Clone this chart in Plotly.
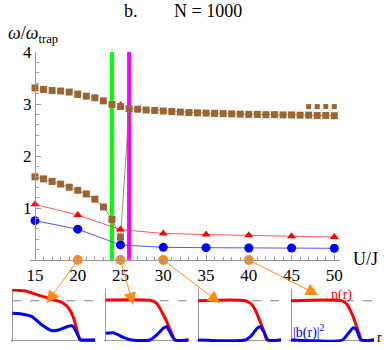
import plotly.graph_objects as go

# ---------------- data ----------------
U_brown = list(range(15, 51))
upper_branch = [3.31, 3.28, 3.26, 3.25, 3.23, 3.19, 3.15, 3.12, 3.06, 2.99, 2.95,
                2.91, 2.90, 2.885, 2.875, 2.865, 2.855, 2.845, 2.835, 2.83, 2.825,
                2.82, 2.815, 2.81, 2.805, 2.80, 2.80, 2.795, 2.795, 2.79, 2.79,
                2.785, 2.785, 2.78, 2.78, 2.775]
U_lower = list(range(15, 26))
lower_branch = [1.60, 1.56, 1.51, 1.46, 1.40, 1.34, 1.27, 1.17, 1.02, 0.78, 0.44]
U_extra = [47, 48, 49, 50]
extra_branch = [2.95, 2.95, 2.95, 2.95]

U_coarse = [15, 20, 25, 30, 35, 40, 45, 50]
red_vals = [1.07, 0.865, 0.585, 0.51, 0.49, 0.475, 0.455, 0.44]
blue_vals = [0.756, 0.593, 0.29, 0.244, 0.237, 0.231, 0.231, 0.225]
U_red_hidden = [20, 25]
red_hidden = [3.15, 3.0]

U_transitions = [24, 26]
U_snapshots = [20, 25, 30, 40]

x_ticks = [15, 20, 25, 30, 35, 40, 45, 50]
y_ticks = [1, 2, 3, 4]

# inset profiles: r (normalised), n(r) and |b(r)|^2 (normalised)
r_n1 = [0, 0.157, 0.313, 0.478, 0.599, 0.678, 0.738, 0.779, 0.819, 1.0]
n1 = [0.98, 0.96, 0.88, 0.80, 0.735, 0.627, 0.431, 0.196, 0.0, 0.0]
r_b1 = [0, 0.096, 0.237, 0.357, 0.478, 0.558, 0.659, 0.719, 0.759, 0.819, 0.86, 1.0]
b1 = [0.523, 0.516, 0.457, 0.294, 0.182, 0.196, 0.261, 0.281, 0.196, 0.013, 0.0, 0.0]

r_n2 = [0, 0.534, 0.614, 0.675, 0.735, 0.795, 0.835, 1.0]
n2 = [0.784, 0.778, 0.72, 0.555, 0.359, 0.131, 0.0, 0.0]
r_b2 = [0, 0.092, 0.212, 0.313, 0.534, 0.614, 0.694, 0.735, 0.783, 0.835, 1.0]
b2 = [0.131, 0.143, 0.053, 0.0, 0.0, 0.098, 0.229, 0.261, 0.131, 0.0, 0.0]

r_n3 = [0, 0.57, 0.642, 0.69, 0.75, 0.803, 0.831, 1.0]
n3 = [0.771, 0.771, 0.706, 0.588, 0.359, 0.131, 0.0, 0.0]
r_b3 = [0, 0.57, 0.651, 0.711, 0.751, 0.792, 0.843, 1.0]
b3 = [0.0, 0.0, 0.098, 0.229, 0.261, 0.163, 0.0, 0.0]

r_n4 = [0, 0.611, 0.671, 0.723, 0.771, 0.819, 0.851, 1.0]
n4 = [0.771, 0.771, 0.706, 0.555, 0.359, 0.131, 0.0, 0.0]
r_b4 = [0, 0.619, 0.691, 0.751, 0.791, 0.843, 1.0]
b4 = [0.0, 0.0, 0.131, 0.241, 0.196, 0.0, 0.0]

n_level = 0.77

# ---------------- styling ----------------
W, H = 387, 350
BROWN = "#996633"
RED = "#FF0000"
BLUE = "#0000FF"
ORANGE = "#FF8A14"
GRAY = "#9a9a9a"
FONT = "Liberation Serif"

def px(x):
    return x / W

def py(y):
    return 1 - y / H

fig = go.Figure()

# phase boundaries
fig.add_trace(go.Scatter(x=[U_transitions[0]] * 2, y=[0, 4], mode="lines",
                         line=dict(color="#00FF00", width=4), showlegend=False))
fig.add_trace(go.Scatter(x=[U_transitions[1]] * 2, y=[0, 4], mode="lines",
                         line=dict(color="#FF00FF", width=4), showlegend=False))

# hidden red points
fig.add_trace(go.Scatter(x=U_red_hidden, y=red_hidden, mode="markers",
                         marker=dict(symbol="triangle-up", color=RED, size=6),
                         showlegend=False))

# brown upper branch (markers only) for U<=25
fig.add_trace(go.Scatter(x=U_brown[:11], y=upper_branch[:11], mode="markers",
                         marker=dict(symbol="square", color=BROWN, size=7),
                         showlegend=False))
# brown lower branch joined to upper branch beyond 26
fig.add_trace(go.Scatter(x=U_lower + U_brown[11:], y=lower_branch + upper_branch[11:],
                         mode="lines+markers",
                         line=dict(color="rgba(153,102,51,0.75)", width=1),
                         marker=dict(symbol="square", color=BROWN, size=7),
                         showlegend=False))
fig.add_trace(go.Scatter(x=U_extra, y=extra_branch, mode="markers",
                         marker=dict(symbol="square", color=BROWN, size=5),
                         showlegend=False))

# red and blue series
fig.add_trace(go.Scatter(x=U_coarse, y=red_vals, mode="lines+markers",
                         line=dict(color="rgba(255,40,40,0.8)", width=1),
                         marker=dict(symbol="triangle-up", color=RED, size=8),
                         showlegend=False))
fig.add_trace(go.Scatter(x=U_coarse, y=blue_vals, mode="lines+markers",
                         line=dict(color="rgba(40,40,255,0.8)", width=1),
                         marker=dict(symbol="circle", color=BLUE, size=9),
                         showlegend=False))

# snapshot markers on the axis
fig.add_trace(go.Scatter(x=U_snapshots, y=[0] * len(U_snapshots), mode="markers",
                         marker=dict(color=ORANGE, size=10), cliponaxis=False,
                         showlegend=False))

# insets
insets = [(r_n1, n1, r_b1, b1), (r_n2, n2, r_b2, b2),
          (r_n3, n3, r_b3, b3), (r_n4, n4, r_b4, b4)]
inset_left = [12.3, 105.7, 198, 291]
inset_w = 83
inset_bottom, inset_top = 340, 289
xr = [-0.02, 1.0]
yr = [-0.04, 1.0]

layout_axes = {}
shapes = []
for i, (rn, nn, rb, bb) in enumerate(insets):
    k = i + 2
    xa, ya = f"x{k}", f"y{k}"
    fig.add_trace(go.Scatter(x=rn, y=nn, mode="lines", xaxis=xa, yaxis=ya,
                             line=dict(color=RED, width=3, shape="spline", smoothing=0.6),
                             showlegend=False))
    fig.add_trace(go.Scatter(x=rb, y=bb, mode="lines", xaxis=xa, yaxis=ya,
                             line=dict(color=BLUE, width=3, shape="spline", smoothing=0.6),
                             showlegend=False))
    L = inset_left[i]
    x0 = L + xr[0] * inset_w
    x1 = L + xr[1] * inset_w
    span = inset_bottom - inset_top
    y0 = inset_bottom - yr[0] * span
    y1 = inset_bottom - yr[1] * span
    layout_axes[f"xaxis{k}"] = dict(domain=[px(x0), px(x1)], range=xr, anchor=ya,
                                    showgrid=False, zeroline=True, zerolinecolor=GRAY,
                                    zerolinewidth=1, showticklabels=False, ticks="",
                                    showline=False)
    layout_axes[f"yaxis{k}"] = dict(domain=[py(y0), py(y1)], range=yr, anchor=xa,
                                    showgrid=False, zeroline=True, zerolinecolor=GRAY,
                                    zerolinewidth=1, showticklabels=False, ticks="",
                                    showline=False)
    shapes.append(dict(type="line", xref=f"{xa} domain", yref=ya, x0=0.02, x1=1.01,
                       y0=n_level, y1=n_level, layer="below",
                       line=dict(color="#808080", width=1, dash="dash")))

# main axes mapping
x_left_px, x_right_px = 30, 340
u0_px, u_scale = 35, 8.552
x_range = [15 + (x_left_px - u0_px) / u_scale, 15 + (x_right_px - u0_px) / u_scale]
y_top_px, y_bot_px = 52, 260


def label(text, x, y, size, color="black", xanchor="center"):
    return dict(text=text, x=px(x), y=py(y), xref="paper", yref="paper",
                xanchor=xanchor, yanchor="middle", showarrow=False,
                font=dict(family=FONT, size=size, color=color))


annotations = [
    label("b.", 130.5, 11, 18),
    label("N = 1000", 208.5, 11, 18),
    label("<i>ω</i>/<i>ω</i><sub>trap</sub>", 6, 34, 18, xanchor="left"),
    label("U/J", 351, 259, 18, xanchor="left"),
    label("n(r)", 341.7, 295, 14, color=RED),
    label("|b(r)|<sup>2</sup>", 291, 331, 14, color=BLUE, xanchor="left"),
    label("r", 379.5, 337, 14),
]

# arrows from snapshot points to insets (heads located in main-axis units)
arrow_heads = [(16.37, -0.833), (26.49, -0.865), (36.67, -0.833), (48.13, -0.673)]
for u, (hx, hy) in zip(U_snapshots, arrow_heads):
    annotations.append(dict(x=hx, y=hy, ax=u, ay=0, xref="x", yref="y",
                            axref="x", ayref="y", text="", showarrow=True,
                            arrowhead=2, arrowsize=2.5, arrowwidth=1,
                            arrowcolor=ORANGE, standoff=0, startstandoff=0))

fig.update_layout(
    width=W, height=H,
    margin=dict(l=0, r=0, t=0, b=0, autoexpand=False),
    paper_bgcolor="white", plot_bgcolor="rgba(0,0,0,0)",
    font=dict(family=FONT, size=17, color="black"),
    xaxis=dict(domain=[px(x_left_px), px(x_right_px)], range=x_range, anchor="y",
               showgrid=False, zeroline=False, showline=True, linecolor=GRAY,
               linewidth=1, tickvals=x_ticks, ticks="inside", ticklen=5,
               tickcolor=GRAY, tickfont=dict(family=FONT, size=17),
               minor=dict(dtick=1, ticks="inside", ticklen=3, tickcolor=GRAY)),
    yaxis=dict(domain=[py(y_bot_px), py(y_top_px)], range=[0, 4], anchor="free",
               position=px(u0_px), showgrid=False, zeroline=False, showline=True,
               linecolor=GRAY, linewidth=1, tickvals=y_ticks, ticks="inside",
               ticklen=5, tickcolor=GRAY, tickfont=dict(family=FONT, size=17),
               minor=dict(dtick=0.2, ticks="inside", ticklen=3, tickcolor=GRAY)),
    annotations=annotations,
    shapes=shapes,
    **layout_axes,
)

fig.write_html("out.html",
               config={"displayModeBar": False},
               post_script="document.body.style.margin='0px';"
                           "document.body.style.padding='0px';")
